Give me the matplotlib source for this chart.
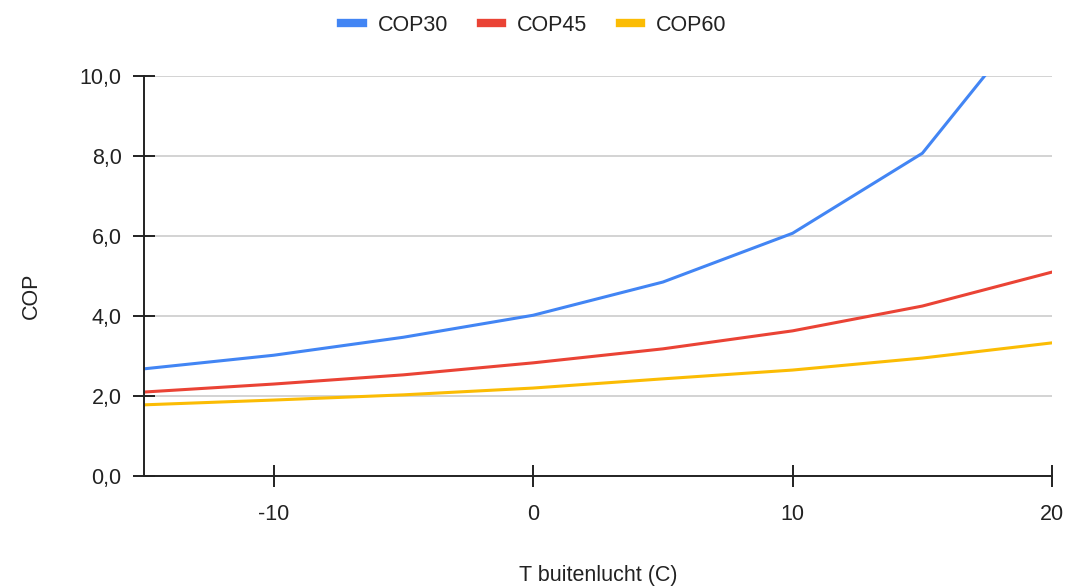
import matplotlib.pyplot as plt
from matplotlib.ticker import FuncFormatter

plt.rcParams['font.family'] = ['Liberation Sans', 'DejaVu Sans']
plt.rcParams['axes.unicode_minus'] = False

# buitentemperatuur en COP bij verschillende aanvoertemperaturen
temp = [-15, -10, -5, 0, 5, 10, 15, 20]
cop30 = [2.68, 3.02, 3.47, 4.02, 4.85, 6.07, 8.07, 12.1]
cop45 = [2.10, 2.30, 2.53, 2.83, 3.18, 3.63, 4.25, 5.10]
cop60 = [1.78, 1.90, 2.03, 2.20, 2.43, 2.65, 2.95, 3.33]

fs = 15.5
fig = plt.figure(figsize=(10.66, 5.87), dpi=100)
ax = fig.add_axes([0.135, 0.189, 0.852, 0.6815])

ax.plot(temp, cop30, color='#4285F4', lw=2.2, label='COP30')
ax.plot(temp, cop45, color='#EA4335', lw=2.2, label='COP45')
ax.plot(temp, cop60, color='#FBBC04', lw=2.2, label='COP60')

ax.set_xlim(-15, 20)
ax.set_ylim(0, 10)
ax.set_xticks([-10, 0, 10, 20])
ax.set_yticks([0, 2, 4, 6, 8, 10])
ax.yaxis.set_major_formatter(FuncFormatter(lambda v, p: f'{v:.1f}'.replace('.', ',')))

ax.grid(axis='y', color='#cccccc', lw=1.2)
ax.set_axisbelow(True)
for s in ['top', 'right']:
    ax.spines[s].set_visible(False)
for s in ['left', 'bottom']:
    ax.spines[s].set_color('#222222')
    ax.spines[s].set_linewidth(1.4)
ax.tick_params(axis='both', direction='inout', length=16, width=1.4,
               colors='#222222', labelsize=fs, labelcolor='#222222')
ax.tick_params(axis='x', pad=12)
ax.tick_params(axis='y', pad=8)

ax.set_xlabel('T buitenlucht (C)', fontsize=fs, color='#222222', va='center')
ax.xaxis.set_label_coords(0.5, -0.2475)
ax.set_ylabel('COP', fontsize=fs, color='#222222', va='center')
ax.yaxis.set_label_coords(-0.124, 0.451)

fig.legend(loc='center', bbox_to_anchor=(0.501, 0.957), ncol=3, frameon=False,
           fontsize=fs, handlelength=1.0, handletextpad=0.7, columnspacing=1.5,
           labelcolor='#222222')
for h in fig.legends[0].get_lines():
    h.set_linewidth(6)

fig.savefig('out.png', dpi=100)
